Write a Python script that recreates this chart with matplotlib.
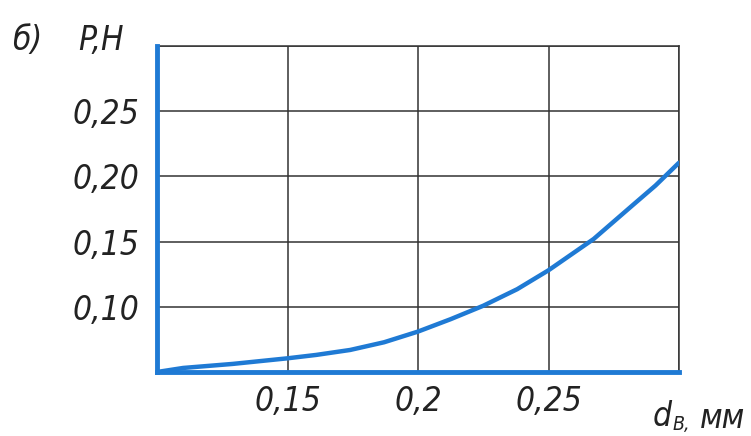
import matplotlib
matplotlib.use("Agg")
import matplotlib.pyplot as plt

# values
d_b = [0.100, 0.110, 0.129, 0.150, 0.161, 0.174, 0.187, 0.200, 0.2125,
       0.225, 0.238, 0.250, 0.2673, 0.2827, 0.291, 0.300]
force = [0.050, 0.0531, 0.0562, 0.0605, 0.0631, 0.0669, 0.0728, 0.081,
         0.0905, 0.1008, 0.1135, 0.128, 0.152, 0.1787, 0.193, 0.2105]

x_ticks = [0.15, 0.20, 0.25]
x_tick_labels = ["0,15", "0,2", "0,25"]
y_ticks = [0.10, 0.15, 0.20, 0.25]
y_tick_labels = ["0,10", "0,15", "0,20", "0,25"]

blue = "#1f7ad4"
ink = "#222222"
font = dict(family=["DejaVu Sans"], style="italic", stretch="condensed",
            fontsize=24, color=ink)

fig = plt.figure(figsize=(7.51, 4.36), dpi=100)
ax = fig.add_axes([157 / 751, 1 - 372 / 436, 522 / 751, 326 / 436])

ax.plot(d_b, force, color=blue, lw=3.2, solid_capstyle="round",
        solid_joinstyle="round", zorder=3)

ax.set_xlim(0.10, 0.30)
ax.set_ylim(0.05, 0.30)
ax.set_xticks(x_ticks + [0.30])
ax.set_yticks(y_ticks + [0.30])
ax.grid(True, color="#333333", lw=1.1)
ax.set_xticklabels(x_tick_labels + [""], **font)
ax.set_yticklabels(y_tick_labels + [""], **font)
ax.tick_params(axis="x", length=0, pad=9)
ax.tick_params(axis="y", length=0, pad=13)

for side in ["top", "right"]:
    ax.spines[side].set_color("#333333")
    ax.spines[side].set_linewidth(1.1)
for side in ["left", "bottom"]:
    ax.spines[side].set_color(blue)
    ax.spines[side].set_linewidth(3.5)
    ax.spines[side].set_zorder(4)

fig.text(12 / 751, 1 - 40 / 436, "б)", va="center", ha="left", **font)
fig.text(78 / 751, 1 - 40 / 436, "P,H", va="center", ha="left", **font)
fig.text(653 / 751, 1 - 416 / 436, "d", va="center", ha="left", **font)
sub = dict(font, fontsize=14)
fig.text(673 / 751, 1 - 424 / 436, "B,", va="center", ha="left", **sub)
fig.text(700 / 751, 1 - 418 / 436, "мм", va="center", ha="left", **font)

fig.savefig("out.png", dpi=100)
